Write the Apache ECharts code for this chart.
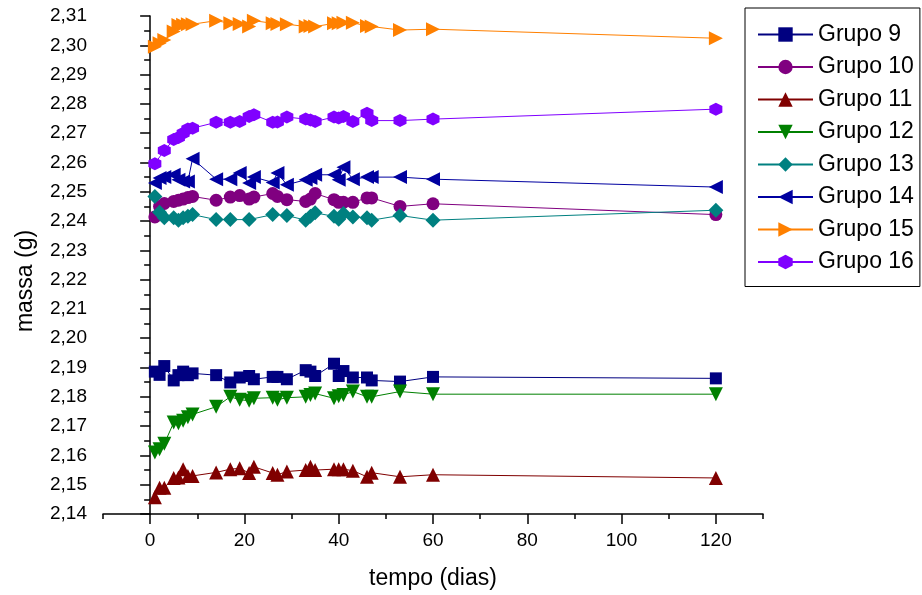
<!DOCTYPE html>
<html>
<head>
<meta charset="utf-8">
<script src="https://cdn.jsdelivr.net/npm/echarts@6/dist/echarts.min.js"></script>
<style>
  html, body { margin: 0; padding: 0; background: #fff; }
  #main { width: 922px; height: 595px; }
</style>
</head>
<body>
<div id="main"></div>
<script>
// dias de medição
var days = [1, 2, 3, 5, 6, 7, 8, 9, 14, 17, 19, 21, 22, 26, 27, 29, 33, 34, 35, 39, 40, 41, 43, 46, 47, 53, 60, 120];

var grupo9  = [2.1886, 2.1875, 2.1905, 2.1856, 2.1874, 2.1886, 2.1874, 2.1880, 2.1874, 2.1849, 2.1866, 2.1871, 2.1860, 2.1868, 2.1868, 2.1860, 2.1891, 2.1886, 2.1871, 2.1913, 2.1871, 2.1888, 2.1866, 2.1866, 2.1856, 2.1852, 2.1868, 2.1863];
var grupo10 = [2.2414, 2.2450, 2.2460, 2.2467, 2.2471, 2.2475, 2.2480, 2.2484, 2.2471, 2.2482, 2.2487, 2.2475, 2.2482, 2.2494, 2.2484, 2.2473, 2.2467, 2.2475, 2.2494, 2.2473, 2.2464, 2.2464, 2.2464, 2.2479, 2.2479, 2.2450, 2.2459, 2.2422];
var grupo11 = [2.1457, 2.1490, 2.1490, 2.1523, 2.1525, 2.1553, 2.1530, 2.1530, 2.1542, 2.1553, 2.1556, 2.1540, 2.1561, 2.1540, 2.1534, 2.1545, 2.1550, 2.1561, 2.1550, 2.1553, 2.1553, 2.1553, 2.1548, 2.1527, 2.1541, 2.1527, 2.1534, 2.1523];
var grupo12 = [2.1610, 2.1621, 2.1640, 2.1712, 2.1710, 2.1718, 2.1730, 2.1740, 2.1766, 2.1800, 2.1790, 2.1787, 2.1795, 2.1797, 2.1790, 2.1797, 2.1800, 2.1806, 2.1811, 2.1795, 2.1802, 2.1806, 2.1818, 2.1800, 2.1800, 2.1818, 2.1809, 2.1809];
var grupo13 = [2.2484, 2.2430, 2.2411, 2.2411, 2.2403, 2.2411, 2.2416, 2.2422, 2.2405, 2.2405, null, 2.2405, null, 2.2422, null, 2.2419, 2.2403, 2.2416, 2.2428, 2.2416, 2.2406, 2.2426, 2.2414, 2.2411, 2.2403, 2.2419, 2.2403, 2.2437];
var grupo14 = [2.2530, 2.2547, 2.2550, 2.2558, 2.2541, 2.2535, 2.2535, 2.2613, 2.2543, 2.2543, 2.2564, 2.2530, 2.2550, 2.2532, 2.2564, 2.2524, 2.2541, 2.2547, 2.2558, 2.2558, 2.2541, 2.2584, 2.2543, 2.2550, 2.2550, 2.2550, 2.2543, 2.2516];
var grupo15 = [2.2995, 2.3007, 2.3018, 2.3047, 2.3069, 2.3070, 2.3072, 2.3072, 2.3084, 2.3075, 2.3073, 2.3064, 2.3084, 2.3075, 2.3073, 2.3072, 2.3064, 2.3066, 2.3064, 2.3075, 2.3075, 2.3077, 2.3077, 2.3066, 2.3064, 2.3052, 2.3055, 2.3024];
var grupo16 = [2.2596, null, 2.2641, 2.2678, 2.2685, 2.2700, 2.2714, 2.2717, 2.2737, 2.2737, 2.2740, 2.2757, 2.2763, 2.2737, 2.2738, 2.2755, 2.2748, 2.2745, 2.2740, 2.2755, 2.2752, 2.2757, 2.2740, 2.2768, 2.2743, 2.2743, 2.2748, 2.2782];

var xLabels = [0, 20, 40, 60, 80, 100, 120];

var font = '"Liberation Sans", Arial, sans-serif';
var hexagon = 'path://M0,-10L8.66,-5L8.66,5L0,10L-8.66,5L-8.66,-5Z';

function pairs(vals) {
  return days.map(function (d, i) { return [d, vals[i]]; })
             .filter(function (p) { return p[1] != null; });
}

function serie(name, vals, color, symbol, size, rotate) {
  return {
    name: name,
    type: 'line',
    data: pairs(vals),
    symbol: symbol,
    symbolSize: size,
    symbolRotate: rotate || 0,
    showAllSymbol: true,
    color: color,
    lineStyle: { width: 1, color: color },
    itemStyle: { color: color, borderWidth: 0 },
    emphasis: { disabled: true },
    animation: false
  };
}

var myChart = echarts.init(document.getElementById('main'));
myChart.setOption({
  backgroundColor: '#fff',
  animation: false,
  grid: { left: 103, right: 159, top: 16, bottom: 80, containLabel: false },
  legend: {
    orient: 'vertical',
    left: 745, top: 8,
    padding: [15, 6, 13, 12],
    borderColor: '#000', borderWidth: 1,
    itemWidth: 55, itemHeight: 18, itemGap: 9.5,
    textStyle: { fontSize: 23, fontFamily: font, color: '#000', lineHeight: 20 },
    data: ['Grupo 9', 'Grupo 10', 'Grupo 11', 'Grupo 12', 'Grupo 13', 'Grupo 14', 'Grupo 15', 'Grupo 16']
  },
  xAxis: [{
    type: 'value', min: -10, max: 130,
    name: 'tempo (dias)', nameLocation: 'middle', nameGap: 53,
    nameTextStyle: { fontSize: 23, fontFamily: font, color: '#000' },
    axisLine: { lineStyle: { color: '#000', width: 1.5 } },
    axisTick: { length: 10, lineStyle: { color: '#000', width: 1.5 }, customValues: xLabels },
    axisLabel: { fontSize: 19, fontFamily: font, color: '#000', margin: 17, customValues: xLabels },
    splitLine: { show: false }
  }, {
    type: 'value', min: -10, max: 130, interval: 10, position: 'bottom',
    axisLine: { show: false },
    axisTick: { length: 5, lineStyle: { color: '#000', width: 1.5 } },
    axisLabel: { show: false },
    splitLine: { show: false }
  }],
  yAxis: {
    type: 'value', min: 2.14, max: 2.31, interval: 0.01,
    name: 'massa (g)', nameLocation: 'middle', nameGap: 66,
    nameTextStyle: { fontSize: 23, fontFamily: font, color: '#000', padding: [0, 32, 0, 0] },
    axisLine: { show: true, lineStyle: { color: '#000', width: 1.5 } },
    axisTick: { length: 10, lineStyle: { color: '#000', width: 1.5 } },
    minorTick: { show: true, splitNumber: 2, length: 6, lineStyle: { color: '#000', width: 1.5 } },
    axisLabel: {
      fontSize: 19, fontFamily: font, color: '#000', margin: 16,
      formatter: function (v) { return v.toFixed(2).replace('.', ','); }
    },
    splitLine: { show: false }
  },
  series: [
    serie('Grupo 9', grupo9, '#000080', 'rect', 12),
    serie('Grupo 10', grupo10, '#800080', 'circle', 13),
    serie('Grupo 11', grupo11, '#800000', 'triangle', 14),
    serie('Grupo 12', grupo12, '#008000', 'triangle', 14, 180),
    serie('Grupo 13', grupo13, '#008080', 'diamond', 15),
    serie('Grupo 14', grupo14, '#0000A0', 'triangle', 14, 90),
    serie('Grupo 15', grupo15, '#FF8000', 'triangle', 14, -90),
    serie('Grupo 16', grupo16, '#8000FF', hexagon, 13)
  ]
});
</script>
</body>
</html>
